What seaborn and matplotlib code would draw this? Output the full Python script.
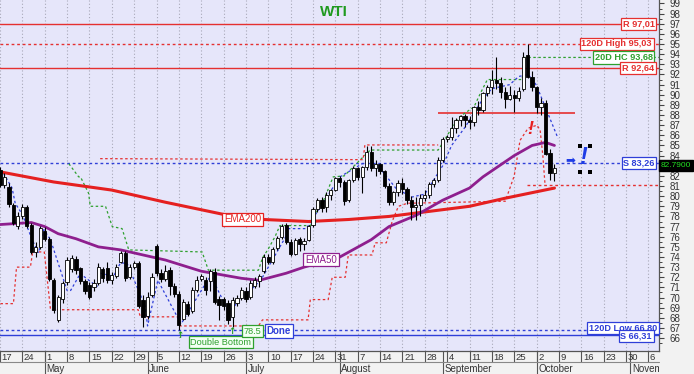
import numpy as np
import pandas as pd
import matplotlib
matplotlib.use("Agg")
import matplotlib.pyplot as plt
import seaborn as sns
from matplotlib.transforms import blended_transform_factory, Bbox, TransformedBbox

# ---------------- data ----------------
opens = [82.6, 81.1, 80.9, 79.1, 77.1, 78.0, 78.9, 77.2, 74.5, 75.0,
         76.6, 75.8, 71.7, 67.8, 69.9, 71.5, 72.8, 73.8, 72.9, 71.6,
         71.2, 71.0, 71.4, 72.8, 72.9, 71.7, 72.1, 73.5, 74.4, 72.0,
         73.0, 73.4, 69.8, 68.2, 70.3, 75.1, 72.4, 71.8, 72.7, 71.1,
         70.4, 67.9, 69.4, 68.7, 70.7, 71.8, 71.7, 71.6, 72.5, 69.9,
         69.9, 69.5, 68.1, 69.5, 70.0, 70.6, 70.1, 71.1, 71.6, 72.6,
         74.0, 73.5, 74.9, 76.0, 77.2, 75.5, 74.3, 75.8, 75.3, 75.7,
         77.2, 78.7, 79.6, 78.9, 80.1, 80.6, 81.8, 81.4, 79.6, 81.6,
         82.8, 81.9, 82.9, 84.4, 82.8, 83.2, 82.5, 81.0, 79.4, 80.4,
         81.3, 80.7, 79.6, 78.9, 79.1, 79.8, 80.1, 81.2, 81.6, 83.6,
         85.6, 85.8, 86.7, 87.5, 87.9, 87.5, 87.3, 88.8, 88.5, 90.2,
         90.8, 91.5, 91.2, 90.3, 89.6, 90.0, 89.7, 90.6, 93.9, 91.8,
         90.8, 88.8, 89.2, 84.3, 82.3]
highs = [82.9, 82.3, 81.3, 79.3, 78.4, 79.2, 79.1, 77.4, 75.5, 77.1,
         77.0, 76.0, 71.9, 70.3, 71.6, 74.0, 74.2, 74.1, 73.0, 71.8,
         71.5, 71.8, 73.4, 73.0, 73.5, 72.5, 73.3, 74.6, 74.6, 73.3,
         73.6, 73.6, 70.3, 70.5, 72.4, 75.3, 72.8, 73.2, 73.0, 71.4,
         70.6, 69.9, 69.7, 71.0, 72.1, 72.3, 72.0, 72.8, 72.9, 70.2,
         70.1, 69.8, 70.1, 70.3, 71.0, 71.0, 71.7, 72.0, 72.3, 74.3,
         74.3, 75.0, 76.1, 77.3, 77.4, 75.8, 75.9, 76.0, 75.9, 77.2,
         78.9, 79.8, 79.9, 80.4, 80.7, 81.9, 82.0, 81.6, 81.7, 83.0,
         82.9, 83.0, 84.9, 84.9, 83.6, 83.3, 82.6, 81.3, 80.5, 81.6,
         81.8, 80.9, 80.0, 79.9, 80.2, 80.6, 81.4, 81.8, 83.9, 85.8,
         86.0, 87.8, 87.7, 88.0, 88.1, 87.9, 88.9, 89.4, 90.3, 91.0,
         92.4, 93.7, 91.8, 90.8, 90.9, 90.5, 90.8, 94.2, 95.0, 92.3,
         90.9, 89.7, 89.5, 84.7, 83.2]
lows = [80.9, 80.8, 78.9, 77.2, 76.8, 77.7, 76.9, 74.3, 74.0, 74.8,
        75.6, 71.6, 68.5, 67.6, 69.5, 71.2, 72.5, 72.3, 71.3, 70.4,
        69.9, 70.6, 71.2, 71.5, 71.4, 71.3, 71.9, 73.4, 71.6, 71.8,
        72.8, 69.0, 67.1, 67.9, 70.1, 72.1, 71.5, 71.6, 70.3, 70.1,
        66.8, 67.8, 68.2, 68.5, 70.5, 71.6, 70.3, 70.6, 69.4, 67.8,
        68.8, 67.4, 67.1, 69.2, 69.8, 69.6, 69.9, 70.9, 71.0, 72.4,
        73.3, 73.3, 74.7, 75.8, 75.3, 74.1, 74.2, 74.6, 74.7, 75.6,
        77.0, 78.4, 78.4, 78.4, 79.6, 80.5, 80.9, 79.1, 79.4, 81.4,
        81.6, 80.3, 82.6, 82.5, 82.0, 82.2, 80.8, 79.1, 79.1, 80.0,
        80.2, 79.2, 77.6, 77.6, 78.0, 79.5, 79.8, 80.9, 81.4, 83.4,
        85.3, 85.5, 86.2, 86.9, 86.8, 86.6, 86.9, 88.0, 88.3, 89.9,
        90.1, 90.6, 89.7, 88.7, 89.5, 88.3, 89.4, 90.4, 91.7, 90.4,
        88.2, 88.0, 84.1, 81.6, 81.5]
closes = [81.1, 81.9, 79.2, 77.4, 78.0, 78.9, 77.1, 74.5, 75.0, 76.9,
          75.8, 71.8, 68.8, 70.1, 71.4, 73.7, 73.9, 72.7, 71.6, 70.6,
          70.1, 71.4, 73.0, 71.9, 71.7, 72.2, 73.0, 74.4, 71.9, 73.0,
          73.4, 69.2, 68.1, 70.1, 72.0, 72.4, 71.8, 72.6, 71.1, 70.4,
          67.3, 69.6, 68.4, 70.7, 71.7, 72.1, 70.7, 72.6, 69.6, 69.3,
          69.2, 67.8, 69.8, 70.0, 70.7, 69.9, 71.4, 71.7, 72.1, 74.0,
          73.5, 74.8, 75.9, 77.1, 75.5, 74.3, 75.7, 75.3, 75.6, 77.1,
          78.7, 79.6, 78.8, 80.1, 80.6, 81.8, 81.4, 79.5, 81.6, 82.8,
          81.9, 82.9, 84.4, 82.8, 83.2, 82.5, 81.0, 79.4, 80.4, 81.3,
          80.7, 79.6, 78.9, 79.1, 79.8, 80.1, 81.2, 81.6, 83.6, 85.6,
          85.8, 86.7, 87.5, 87.9, 87.5, 87.3, 88.8, 88.5, 90.2, 90.8,
          91.5, 91.2, 90.3, 89.6, 90.0, 89.7, 90.4, 93.7, 91.8, 90.8,
          88.8, 89.2, 84.2, 82.3, 82.79]

day_pos = list(range(0, 146, 5))
day_labels = ["17", "24", "1", "8", "15", "22", "29", "5", "12", "19", "26",
              "3", "10", "17", "24", "31", "7", "14", "21", "28", "4", "11",
              "18", "25", "2", "9", "16", "23", "30", "6"]
month_pos = [10, 33, 55, 76, 99, 120, 141]
month_names = ["May", "June", "July", "August", "September", "October", "November"]

ema200_idx = [0, 12, 25, 37, 50, 59, 69, 78, 87, 96, 105, 113, 124]
ema200_val = [82.4, 81.4, 80.6, 79.4, 78.2, 77.7, 77.5, 77.7, 78.0, 78.5, 79.0, 79.8, 80.8]

ema50_idx = [0, 7, 10, 13, 17, 22, 27, 30, 37, 45, 54, 58, 64, 68, 76, 83, 87,
             93, 99, 105, 108, 115, 119, 122, 124]
ema50_val = [77.2, 77.4, 77.0, 76.3, 75.8, 75.0, 74.7, 74.4, 73.7, 72.6, 71.9,
             71.7, 72.4, 73.0, 74.0, 75.7, 77.0, 78.1, 79.6, 80.8, 81.9, 84.0,
             85.0, 85.3, 85.0]

trail_idx = [0.8, 2.7, 3.4, 5.0, 7.2, 8.6, 9.8, 11.3, 15.0, 15.8, 18.0, 18.7,
             21.7, 22.5, 25.4, 26.9, 28.4, 32.5, 33.0, 35.3, 40.5, 46.4, 47.2,
             50.9, 51.6, 53.8, 58.3, 63.9, 64.5, 68.5, 76.0, 81.0, 84.0, 88.5,
             92.0, 95.0, 99.0, 101.0, 104.0, 108.0, 110.0, 114.0, 116.0, 118.0,
             119.0, 120.0, 124.8]
trail_val = [82.25, 80.8, 79.3, 78.2, 75.7, 74.4, 76.7, 75.7, 70.7, 70.7, 72.4,
             72.1, 71.1, 72.4, 72.1, 73.4, 73.4, 69.1, 67.2, 71.7, 67.4, 71.7,
             72.1, 68.8, 68.8, 69.8, 71.7, 76.0, 76.8, 76.8, 81.9, 83.2, 83.3,
             80.8, 79.9, 80.2, 83.0, 85.0, 86.8, 89.6, 90.6, 91.0, 91.8, 92.0,
             91.6, 90.9, 85.7]

hc_idx = [15.4, 17.6, 18.0, 19.8, 20.2, 23.6, 25.1, 27.3, 28.8, 45.2, 46.6,
          57.8, 58.7, 60.0, 61.5, 62.6, 69.4, 71.0, 72.5, 74.5, 77.0, 79.0,
          82.8, 98.0, 99.5, 101.0, 103.0, 106.0, 107.5, 109.0, 116.8, 117.2, 147.5]
hc_val = [83.2, 81.9, 81.9, 80.3, 79.0, 79.0, 77.0, 76.8, 74.7, 74.5, 72.7,
          72.7, 73.9, 74.8, 76.0, 77.1, 77.1, 78.8, 79.7, 81.9, 82.0, 82.9,
          84.55, 84.55, 85.6, 86.7, 87.9, 88.8, 90.2, 91.5, 91.5, 93.68, 93.68]

stop_idx = [0.1, 3.0, 3.7, 6.8, 7.3, 9.9, 11.3, 30.9, 31.4, 39.9, 40.3, 57.8,
            58.7, 68.9, 69.4, 73.4, 74.3, 77.2, 77.9, 83.2, 83.9, 86.4, 87.7,
            89.1, 91.1, 113.0, 115.0, 116.3, 118.1, 120.1, 120.8, 121.4, 121.9]
stop_val = [69.4, 69.4, 73.0, 73.0, 74.5, 74.5, 68.8, 68.8, 68.1, 68.1, 67.2,
            67.2, 67.8, 67.8, 69.8, 69.8, 72.0, 72.0, 74.2, 74.2, 75.4, 75.4,
            77.5, 79.0, 79.3, 79.5, 82.0, 85.5, 86.7, 87.0, 86.5, 84.0, 81.1]

upper_idx = [22.4, 81.2, 81.6, 98.0]
upper_val = [83.7, 83.6, 85.05, 85.05]

R1, HIGH120, HC20, R2 = 97.01, 95.03, 93.68, 92.64
S1, LOW120, S2 = 83.26, 66.80, 66.31
RES_SEG, RES_SEG_FROM, RES_SEG_TO = 88.23, 98.0, 128.6
STOP_LVL, STOP_FROM = 81.1, 117.9
LAST = 82.79
price_ticks = list(range(66, 100))

# ---------------- styling ----------------
sns.set_theme(style="white")
plt.rcParams['font.family'] = ['Liberation Sans', 'DejaVu Sans']

W, H = 694, 374
fig = plt.figure(figsize=(W / 100, H / 100), dpi=100, facecolor='#F2F2F2')
ax = fig.add_axes([0, 23 / H, 659 / W, 351 / H])
ax.set_facecolor('#E6E6FA')
ax.set_xlim(0.11, 147.38)
ax.set_ylim(64.73, 99.345)

RED = '#E53030'
BLUE = '#2F3FD8'
GREEN = '#2EA02E'
PURPLE = '#8E1F8E'

# grid at Mondays
ax.set_xticks(day_pos)
ax.set_xticks(month_pos, minor=True)
ax.xaxis.remove_overlapping_locs = False
ax.grid(axis='x', which='major', color='#A8A8B8', linestyle=(0, (1, 2)), linewidth=0.8)
ax.grid(axis='y', visible=False)
ax.set_axisbelow(True)
ax.tick_params(axis='x', which='major', direction='out', length=7.9, width=0.8,
               color='#555555', labelbottom=False, bottom=True)
ax.tick_params(axis='x', which='minor', direction='out', length=16.6, width=0.8,
               color='#555555', labelbottom=False, bottom=True)

# right price axis (label under the last-price tag is hidden by it)
ax.yaxis.tick_right()
ax.set_yticks(price_ticks)
ax.set_yticklabels(['' if v == 83 else str(v) for v in price_ticks])
ax.set_yticks(np.arange(65.5, 99.5, 1.0), minor=True)
ax.tick_params(axis='y', which='major', direction='out', length=3.8, width=0.8,
               color='#444444', labelsize=7, labelcolor='#333333', pad=3.5, right=True)
ax.tick_params(axis='y', which='minor', direction='out', length=2.0, width=0.7,
               color='#444444', right=True)
for s in ['top', 'left']:
    ax.spines[s].set_visible(False)
for s in ['right', 'bottom']:
    ax.spines[s].set_color('#555555')
    ax.spines[s].set_linewidth(0.9)

# horizontal levels
ax.axhline(R1, color=RED, lw=1.0, zorder=1)
ax.axhline(HIGH120, color=RED, lw=1.0, ls=(0, (2, 2)), zorder=1)
ax.axhline(R2, color=RED, lw=1.0, zorder=1)
ax.axhline(S1, color=BLUE, lw=1.0, ls=(0, (2, 2)), zorder=1)
ax.axhline(LOW120, color=BLUE, lw=1.0, ls=(0, (2, 2)), zorder=1)
ax.axhline(S2, color=BLUE, lw=1.0, zorder=1)
ax.hlines(RES_SEG, RES_SEG_FROM, RES_SEG_TO, color=RED, lw=1.2, zorder=1)
ax.hlines(STOP_LVL, STOP_FROM, 147.5, color=RED, lw=1.0, ls=(0, (2, 2)), zorder=1)

# step / trailing lines
ax.plot(hc_idx, hc_val, color=GREEN, lw=0.9, ls=(0, (2, 2)), zorder=2)
ax.plot(stop_idx, stop_val, color=RED, lw=0.9, ls=(0, (2, 2)), zorder=2)
ax.plot(upper_idx, upper_val, color=RED, lw=0.9, ls=(0, (2, 2)), zorder=2)
ax.plot(trail_idx, trail_val, color=BLUE, lw=0.9, ls=(0, (2, 2)), zorder=2)

# moving averages (seaborn)
sns.lineplot(x=ema200_idx, y=ema200_val, ax=ax, color='#E52020', linewidth=2.2,
             estimator=None, zorder=3)
sns.lineplot(x=ema50_idx, y=ema50_val, ax=ax, color=PURPLE, linewidth=2.0,
             estimator=None, zorder=3)

# candles
df = pd.DataFrame({'i': np.arange(len(closes)), 'o': opens, 'h': highs,
                   'l': lows, 'c': closes})
up = df['c'] >= df['o']
ax.vlines(df['i'], df['l'], df['h'], color='black', lw=0.8, zorder=4)
bottom = np.minimum(df['o'], df['c'])
height = np.maximum(np.abs(df['c'] - df['o']), 0.08)
ax.bar(df['i'], height, bottom=bottom, width=0.72,
       color=np.where(up, 'white', 'black'), edgecolor='black', linewidth=0.6, zorder=5)

# level labels
def tag(x, y, s, col, fc='white', size=6.6, weight='bold', ha='right'):
    ax.text(x, y, s, ha=ha, va='center', fontsize=size, fontweight=weight, color=col,
            zorder=8, bbox=dict(boxstyle='square,pad=0.18', fc=fc, ec=col, lw=0.9))

tag(146.4, R1, 'R 97,01', RED)
tag(145.8, HIGH120, '120D High 95,03', RED)
tag(146.0, HC20, '20D HC 93,68', GREEN)
tag(146.3, R2, 'R 92,64', RED)
tag(146.4, S1, 'S 83,26', BLUE)
tag(147.0, LOW120 + 0.2, '120D Low 66,80', BLUE)
tag(145.8, S2 - 0.1, 'S 66,31', BLUE)

tag(54.2, 77.7, 'EMA200', '#E52020', size=7, weight='normal', ha='center')
tag(71.8, 73.75, 'EMA50', PURPLE, size=7, weight='normal', ha='center')
tag(49.4, 65.6, 'Double Bottom', GREEN, fc='#F3FFF3', size=6.6, weight='normal', ha='center')
tag(56.5, 66.7, '78.5', GREEN, fc='#F3FFF3', size=6.6, weight='normal', ha='center')
tag(62.3, 66.68, 'Done', BLUE, size=7, weight='bold', ha='center')

for xa, ya in [(40.3, 66.3), (52.0, 66.62)]:
    ax.text(xa, ya, '↑', ha='center', va='center', fontsize=6.3, fontweight='bold',
            color='#1E9A1E', family=['DejaVu Sans'], zorder=8)

ax.text(74.7, 98.15, 'WTI', ha='center', va='center', fontsize=11, fontweight='bold',
        color='#1F9A1F', zorder=8)

# signals
ax.text(118.5, 86.6, '!', ha='center', va='center', fontsize=13, fontweight='bold',
        fontstyle='italic', color='#E82020', zorder=8)
ax.text(127.5, 83.5, '➡', ha='center', va='center', fontsize=8.5, color='#1E3CE6',
        family=['DejaVu Sans'], zorder=8)
ax.text(130.5, 83.86, '!', ha='center', va='center', fontsize=17, fontweight='bold',
        fontstyle='italic', color='#1E3CE6', zorder=8)
ax.scatter([129.8, 132.0, 129.8, 132.0], [84.9, 84.9, 82.43, 82.43], marker='s', s=10,
           c='black', zorder=8, linewidths=0)

# last price tag on the axis
ax.text(1.003, LAST + 0.25, '82.7900', transform=blended_transform_factory(ax.transAxes, ax.transData),
        ha='left', va='center', fontsize=6, color='#22DD22', clip_on=False, zorder=10,
        bbox=dict(boxstyle='square,pad=0.2', fc='black', ec='black'))

# date strip
trans = blended_transform_factory(ax.transData, ax.transAxes)
for p, lab in zip(day_pos, day_labels):
    ax.text(p + 0.35, -1.5 / 351, lab, transform=trans, ha='left', va='top',
            fontsize=6.8, color='#333333', clip_on=False)
ax.plot([0, 1], [-10.5 / 351, -10.5 / 351], transform=ax.transAxes, color='#888888',
        lw=0.8, clip_on=False)
clipbox = TransformedBbox(Bbox([[0, -1], [1, 0]]), ax.transAxes)
for p, name in zip(month_pos, month_names):
    t = ax.text(p + 0.35, -12.5 / 351, name, transform=trans, ha='left', va='top',
                fontsize=7, color='#333333')
    t.set_clip_on(True)
    t.set_clip_box(clipbox)

ax.set_xlabel('')
ax.set_ylabel('')
fig.savefig('out.png', dpi=100, facecolor=fig.get_facecolor())
